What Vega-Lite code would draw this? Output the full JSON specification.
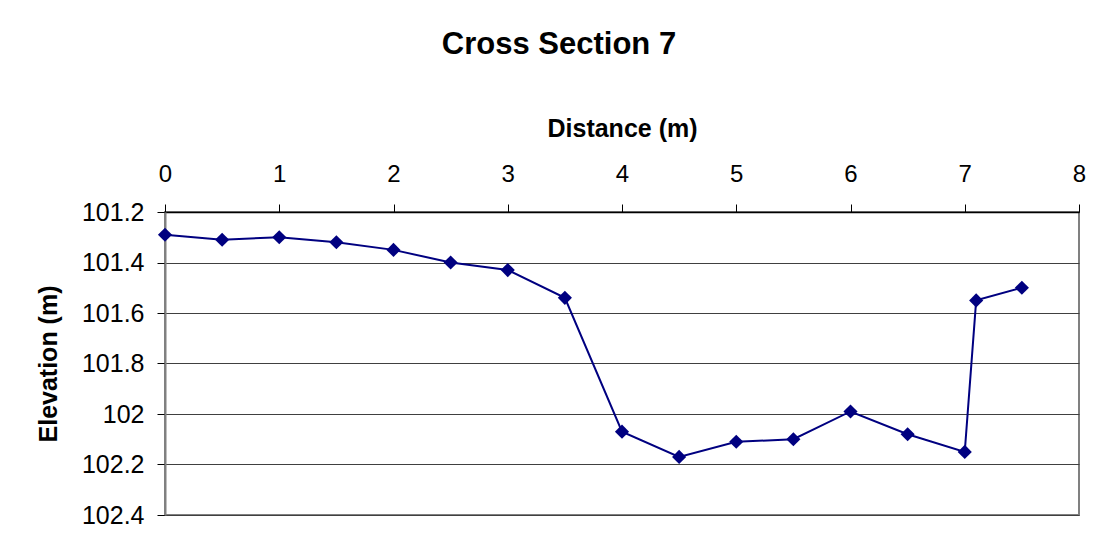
{
  "$schema": "https://vega.github.io/schema/vega-lite/v6.json",
  "width": 914,
  "height": 303,
  "autosize": {"type": "none"},
  "padding": {"left": 165, "top": 212, "right": 28, "bottom": 43},
  "background": "white",
  "title": {
    "text": "Cross Section 7",
    "font": "Liberation Sans",
    "fontSize": 31,
    "fontWeight": "bold",
    "color": "black",
    "anchor": "middle",
    "frame": "group",
    "dx": -63,
    "offset": 55
  },
  "data": {
    "values": [
      {"distance": 0, "elevation": 101.29},
      {"distance": 0.5, "elevation": 101.31},
      {"distance": 1, "elevation": 101.30},
      {"distance": 1.5, "elevation": 101.32},
      {"distance": 2, "elevation": 101.35},
      {"distance": 2.5, "elevation": 101.40},
      {"distance": 3, "elevation": 101.43},
      {"distance": 3.5, "elevation": 101.54},
      {"distance": 4, "elevation": 102.07},
      {"distance": 4.5, "elevation": 102.17},
      {"distance": 5, "elevation": 102.11},
      {"distance": 5.5, "elevation": 102.10},
      {"distance": 6, "elevation": 101.99},
      {"distance": 6.5, "elevation": 102.08},
      {"distance": 7, "elevation": 102.15},
      {"distance": 7.1, "elevation": 101.55},
      {"distance": 7.5, "elevation": 101.50}
    ]
  },
  "mark": {
    "type": "line",
    "color": "#000080",
    "strokeWidth": 2,
    "point": {"shape": "diamond", "size": 200, "filled": true, "color": "#000080"}
  },
  "encoding": {
    "x": {
      "field": "distance",
      "type": "quantitative",
      "scale": {"domain": [0, 8], "nice": false, "zero": false},
      "axis": {
        "orient": "top",
        "title": "Distance (m)",
        "values": [0, 1, 2, 3, 4, 5, 6, 7, 8],
        "grid": false,
        "domainColor": "black",
        "domainWidth": 1.5,
        "tickColor": "black",
        "tickSize": 8,
        "labelFont": "Liberation Sans",
        "labelFontSize": 24,
        "labelColor": "black",
        "labelBaseline": "middle",
        "labelPadding": 30,
        "labelFlush": false,
        "titleFont": "Liberation Sans",
        "titleFontSize": 25,
        "titleFontWeight": "bold",
        "titleColor": "black",
        "titleX": 457,
        "titleY": -84,
        "titleBaseline": "middle",
        "titleAlign": "center"
      }
    },
    "y": {
      "field": "elevation",
      "type": "quantitative",
      "scale": {"domain": [101.2, 102.4], "reverse": true, "nice": false, "zero": false},
      "axis": {
        "orient": "left",
        "title": "Elevation (m)",
        "values": [101.2, 101.4, 101.6, 101.8, 102, 102.2, 102.4],
        "format": ".4~r",
        "grid": true,
        "gridColor": "#404040",
        "gridWidth": 1,
        "domainColor": "#808080",
        "domainWidth": 2,
        "tickColor": "black",
        "tickSize": 8,
        "labelFont": "Liberation Sans",
        "labelFontSize": 25,
        "labelColor": "black",
        "labelPadding": 13,
        "labelFlush": false,
        "titleFont": "Liberation Sans",
        "titleFontSize": 25,
        "titleFontWeight": "bold",
        "titleColor": "black",
        "titleAngle": -90,
        "titleX": -117,
        "titleY": 151.5,
        "titleAlign": "center",
        "titleBaseline": "middle"
      }
    }
  },
  "config": {
    "view": {"stroke": "#808080", "strokeWidth": 2},
    "font": "Liberation Sans"
  }
}
